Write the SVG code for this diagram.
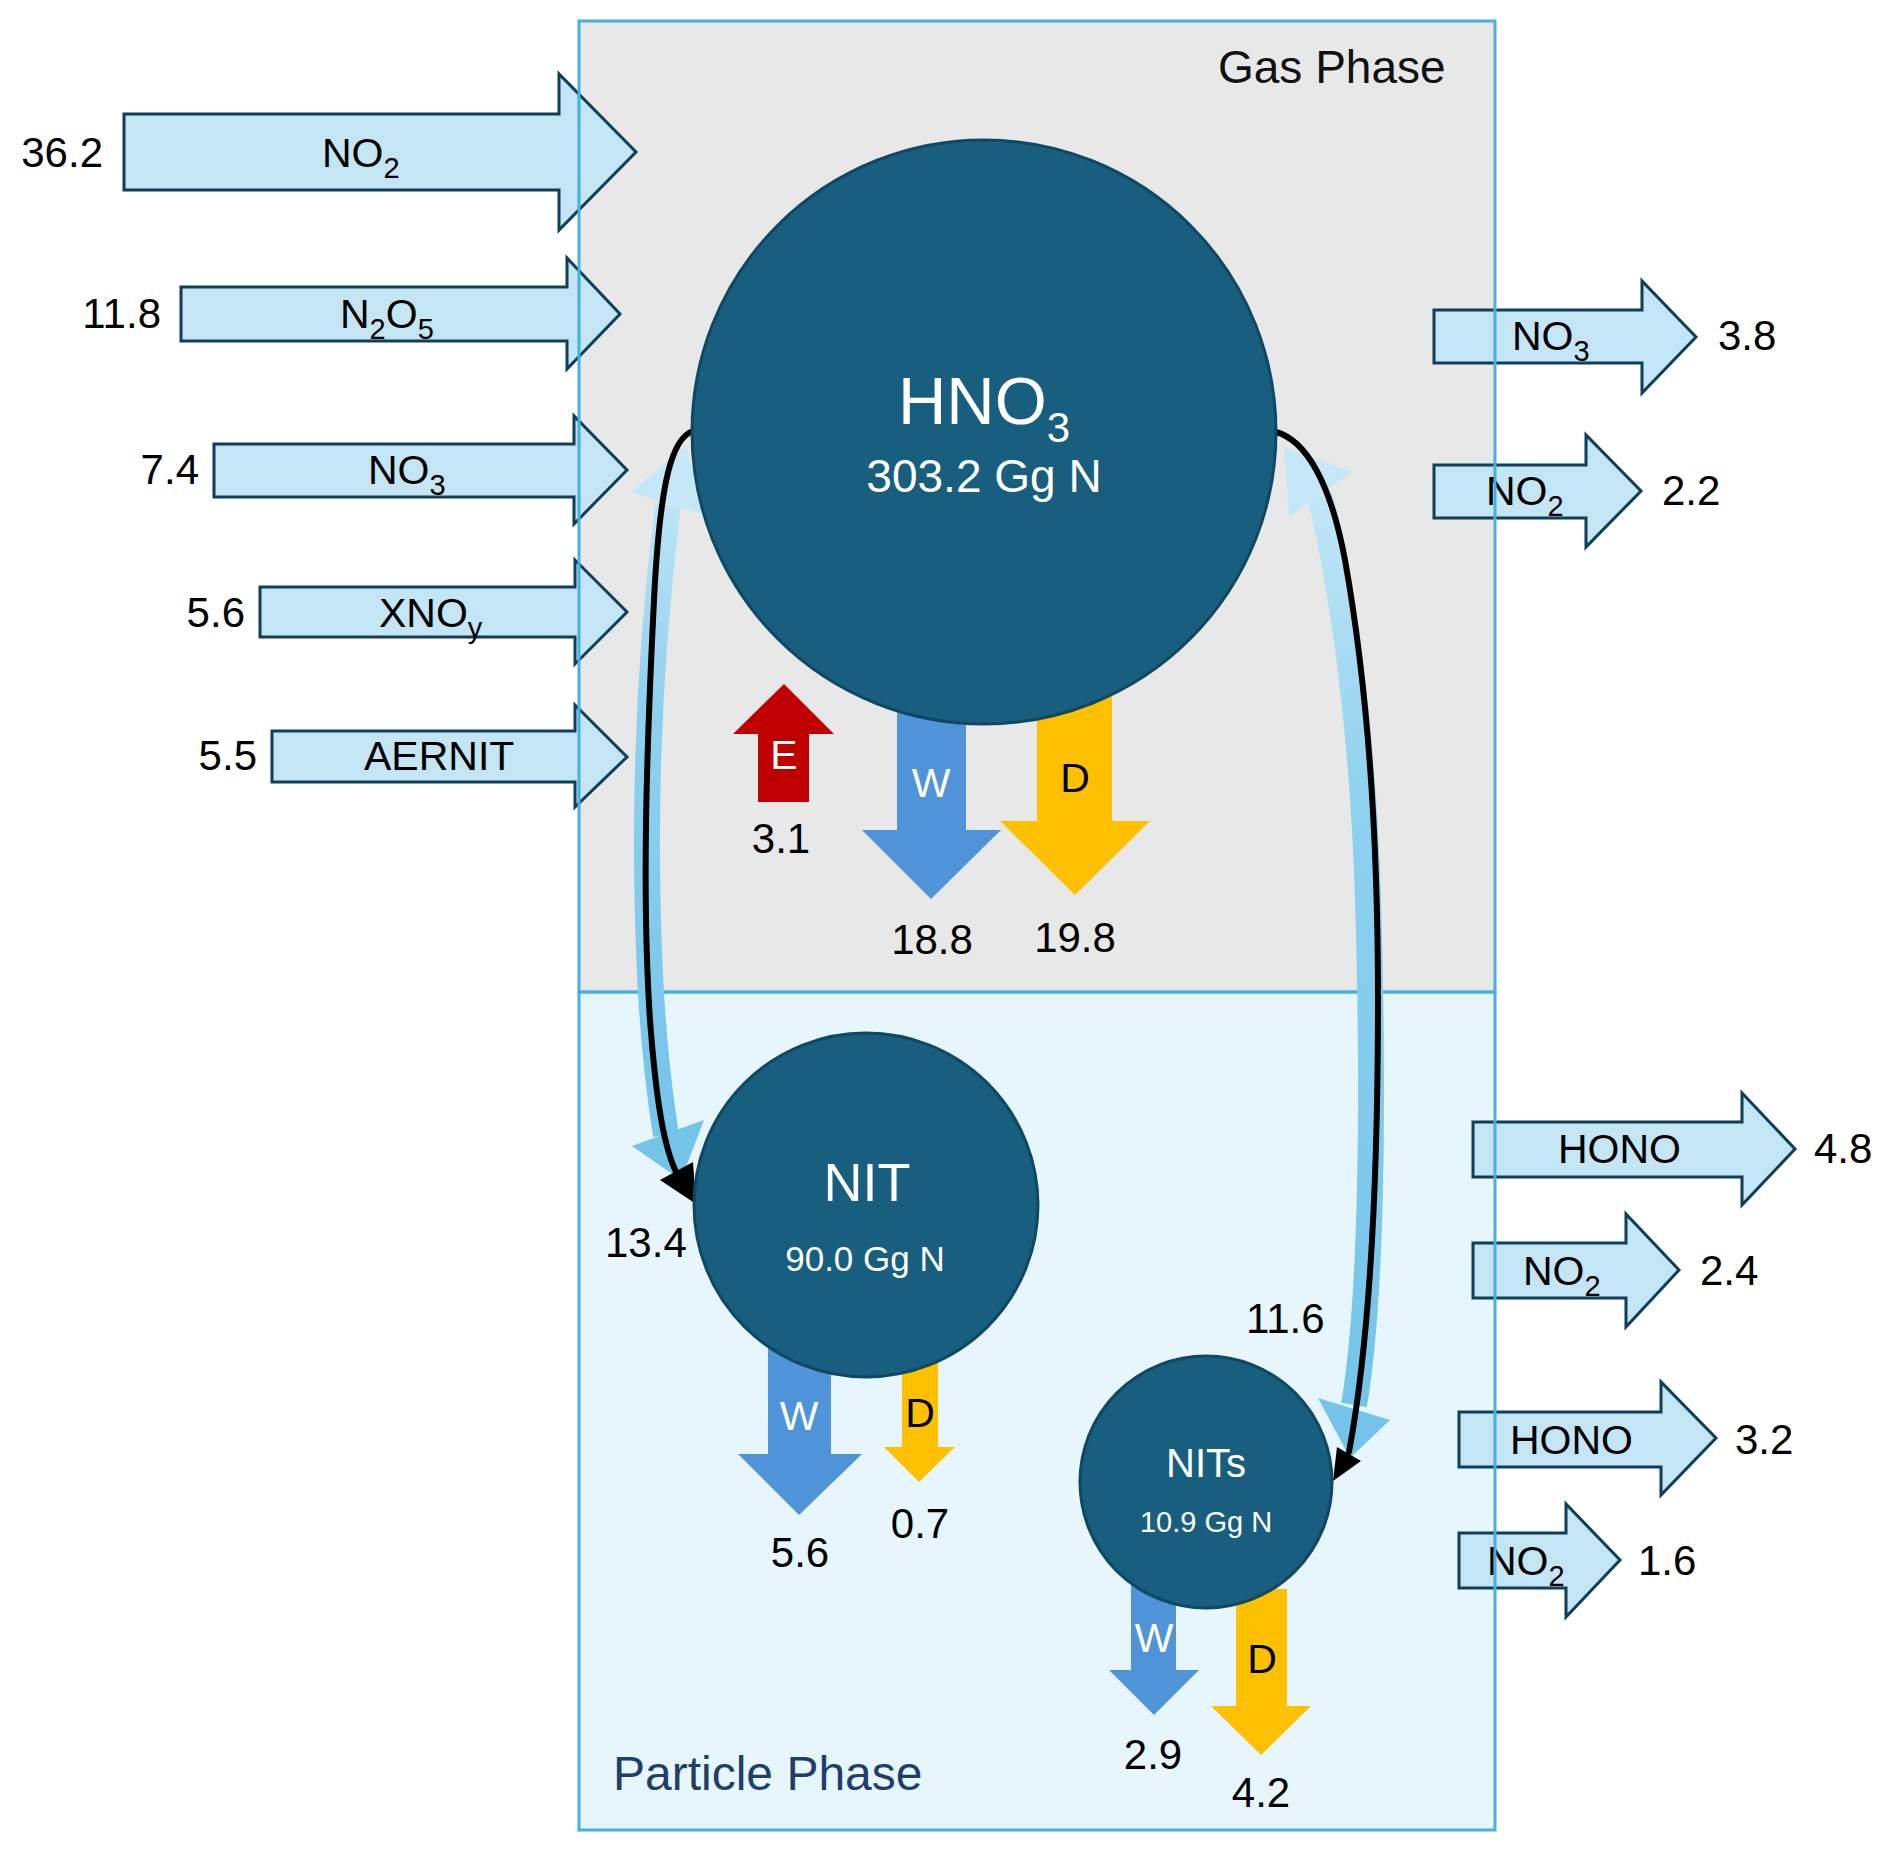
<svg xmlns="http://www.w3.org/2000/svg" width="1892" height="1852" viewBox="0 0 1892 1852">
<defs>
<style>
text{font-family:"Liberation Sans",Arial,sans-serif;}
.flow{fill:#c3e5f4;stroke:#0e3e58;stroke-width:3;stroke-linejoin:miter;}
.lbl{font-size:41px;fill:#000;}
.sub{font-size:29px;}
.num{font-size:42px;fill:#000;}
.node{fill:#175e7f;stroke:#0f4862;stroke-width:3;}
.ntxt{fill:#fff;text-anchor:middle;}
.wet{fill:#4f94d9;}
.dry{fill:#ffc000;}
.emi{fill:#c00000;}
.wl{font-size:41px;fill:#fff;}
.dl{font-size:41px;fill:#000;}
.blk{fill:none;stroke:#000;stroke-width:6;stroke-linecap:round;}
.band{fill:none;stroke-width:26;stroke-linecap:butt;}
</style>
<linearGradient id="gL" gradientUnits="userSpaceOnUse" x1="0" y1="440" x2="0" y2="1190">
<stop offset="0" stop-color="#cdeaf8"/><stop offset="0.35" stop-color="#8fd1ef"/><stop offset="1" stop-color="#72c3ea"/>
</linearGradient>
<linearGradient id="gR" gradientUnits="userSpaceOnUse" x1="0" y1="440" x2="0" y2="1460">
<stop offset="0" stop-color="#cdeaf8"/><stop offset="0.35" stop-color="#8fd1ef"/><stop offset="1" stop-color="#72c3ea"/>
</linearGradient>
</defs>

<g id="phases">
<rect id="gas-fill" x="579" y="21" width="916" height="971" fill="#e8e8e8"/>
<rect id="particle-fill" x="579" y="992" width="916" height="838" fill="#e7f5fd"/>
</g>

<g id="inflows">
<g id="in-NO2"><polygon class="flow" points="124,114 559,114 559,74 636,152 559,230 559,190 124,190"/>
<text class="lbl" x="322" y="167">NO<tspan class="sub" dy="11">2</tspan></text>
<text class="num" x="103" y="167" text-anchor="end">36.2</text></g>
<g id="in-N2O5"><polygon class="flow" points="181,287 567,287 567,258 620,314 567,369 567,341 181,341"/>
<text class="lbl" x="340" y="328">N<tspan class="sub" dy="11">2</tspan><tspan dy="-11">O</tspan><tspan class="sub" dy="11">5</tspan></text>
<text class="num" x="161" y="328" text-anchor="end">11.8</text></g>
<g id="in-NO3"><polygon class="flow" points="214,444 574,444 574,416 627,470 574,524 574,497 214,497"/>
<text class="lbl" x="368" y="484">NO<tspan class="sub" dy="11">3</tspan></text>
<text class="num" x="199" y="484" text-anchor="end">7.4</text></g>
<g id="in-XNOy"><polygon class="flow" points="260,587 575,587 575,560 627,612 575,664 575,637 260,637"/>
<text class="lbl" x="379" y="627">XNO<tspan class="sub" dy="11">y</tspan></text>
<text class="num" x="245" y="627" text-anchor="end">5.6</text></g>
<g id="in-AERNIT"><polygon class="flow" points="272,731 575,731 575,705 627,757 575,807 575,782 272,782"/>
<text class="lbl" x="364" y="770">AERNIT</text>
<text class="num" x="257" y="770" text-anchor="end">5.5</text></g>
</g>

<g id="outflows">
<g id="out-gas-NO3"><polygon class="flow" points="1434,310 1642,310 1642,281 1696,337 1642,393 1642,363 1434,363"/>
<text class="lbl" x="1512" y="350">NO<tspan class="sub" dy="11">3</tspan></text>
<text class="num" x="1718" y="350">3.8</text></g>
<g id="out-gas-NO2"><polygon class="flow" points="1434,465 1586,465 1586,435 1641,491 1586,547 1586,518 1434,518"/>
<text class="lbl" x="1486" y="505">NO<tspan class="sub" dy="11">2</tspan></text>
<text class="num" x="1662" y="505">2.2</text></g>
<g id="out-nit-HONO"><polygon class="flow" points="1473,1122 1742,1122 1742,1093 1795,1149 1742,1205 1742,1177 1473,1177"/>
<text class="lbl" x="1558" y="1163">HONO</text>
<text class="num" x="1814" y="1163">4.8</text></g>
<g id="out-nit-NO2"><polygon class="flow" points="1473,1243 1626,1243 1626,1214 1679,1270 1626,1327 1626,1298 1473,1298"/>
<text class="lbl" x="1523" y="1285">NO<tspan class="sub" dy="11">2</tspan></text>
<text class="num" x="1700" y="1285">2.4</text></g>
<g id="out-nits-HONO"><polygon class="flow" points="1459,1412 1661,1412 1661,1382 1716,1438 1661,1495 1661,1467 1459,1467"/>
<text class="lbl" x="1510" y="1454">HONO</text>
<text class="num" x="1735" y="1454">3.2</text></g>
<g id="out-nits-NO2"><polygon class="flow" points="1459,1533 1566,1533 1566,1504 1620,1560 1566,1617 1566,1588 1459,1588"/>
<text class="lbl" x="1487" y="1575">NO<tspan class="sub" dy="11">2</tspan></text>
<text class="num" x="1638" y="1575">1.6</text></g>
</g>

<g id="phase-borders" fill="none" stroke="#45b0e1" stroke-width="3">
<rect x="579" y="21" width="916" height="971"/>
<rect x="579" y="992" width="916" height="838"/>
</g>
<text x="1218" y="83" font-size="46" fill="#111">Gas Phase</text>
<text x="613" y="1790" font-size="48" fill="#1f3f6a">Particle Phase</text>

<g id="connectors">
<path class="band" stroke="url(#gL)" d="M668 505 C656 600 646 720 647 860 C648 980 654 1060 666 1135"/>
<polygon fill="#c6e7f7" points="631,492 705,515 686,446"/>
<polygon fill="#74c4ea" points="632,1146 704,1120 681,1180"/>
<path class="band" stroke="url(#gR)" d="M1320 496 C1336 560 1362 700 1368 900 C1374 1100 1372 1300 1354 1405"/>
<polygon fill="#c6e7f7" points="1352,472 1289,517 1284,447"/>
<polygon fill="#74c4ea" points="1318,1398 1390,1420 1350,1458"/>
<path class="blk" d="M693 431 C672 438 660 480 654 600 C646 760 642 900 650 1020 C656 1100 664 1150 678 1176"/>
<polygon fill="#000" points="660,1180 693,1162 696,1204"/>
<path class="blk" d="M1276 432 C1305 440 1330 480 1345 560 C1370 700 1378 850 1378 1000 C1378 1200 1368 1350 1349 1452"/>
<polygon fill="#000" points="1337,1447 1361,1461 1333,1481"/>
</g>

<g id="sinks">
<g id="HNO3-E"><polygon class="emi" points="758,802 758,734 733,734 784,684 834,734 809,734 809,802"/>
<text class="wl" x="784" y="769" text-anchor="middle">E</text>
<text class="num" x="781" y="853" text-anchor="middle">3.1</text></g>
<g id="HNO3-W"><polygon class="wet" points="897,690 966,690 966,830 1001,830 931,899 862,830 897,830"/>
<text class="wl" x="931" y="797" text-anchor="middle">W</text>
<text class="num" x="932" y="954" text-anchor="middle">18.8</text></g>
<g id="HNO3-D"><polygon class="dry" points="1037,680 1112,680 1112,821 1150,821 1075,895 1000,821 1037,821"/>
<text class="dl" x="1075" y="792" text-anchor="middle">D</text>
<text class="num" x="1075" y="952" text-anchor="middle">19.8</text></g>
<g id="NIT-W"><polygon class="wet" points="768,1330 831,1330 831,1454 862,1454 799,1515 738,1454 768,1454"/>
<text class="wl" x="799" y="1430" text-anchor="middle">W</text>
<text class="num" x="800" y="1567" text-anchor="middle">5.6</text></g>
<g id="NIT-D"><polygon class="dry" points="902,1340 938,1340 938,1447 955,1447 919,1482 884,1447 902,1447"/>
<text class="dl" x="920" y="1427" text-anchor="middle">D</text>
<text class="num" x="920" y="1538" text-anchor="middle">0.7</text></g>
<g id="NITs-W"><polygon class="wet" points="1131,1575 1176,1575 1176,1670 1199,1670 1154,1715 1109,1670 1131,1670"/>
<text class="wl" x="1154" y="1652" text-anchor="middle">W</text>
<text class="num" x="1153" y="1769" text-anchor="middle">2.9</text></g>
<g id="NITs-D"><polygon class="dry" points="1236,1589 1287,1589 1287,1706 1311,1706 1261,1755 1211,1706 1236,1706"/>
<text class="dl" x="1262" y="1673" text-anchor="middle">D</text>
<text class="num" x="1261" y="1807" text-anchor="middle">4.2</text></g>
</g>

<g id="HNO3">
<circle class="node" cx="984" cy="432" r="292"/>
<text class="ntxt" x="984" y="424" font-size="67"><tspan>HNO</tspan><tspan font-size="42" dy="18">3</tspan></text>
<text class="ntxt" x="984" y="492" font-size="46">303.2 Gg N</text>
</g>
<g id="NIT">
<circle class="node" cx="866" cy="1205" r="172"/>
<text class="ntxt" x="867" y="1201" font-size="54">NIT</text>
<text class="ntxt" x="865" y="1271" font-size="35">90.0 Gg N</text>
</g>
<g id="NITs">
<circle class="node" cx="1206" cy="1482" r="126"/>
<text class="ntxt" x="1206" y="1477" font-size="40">NITs</text>
<text class="ntxt" x="1206" y="1532" font-size="29">10.9 Gg N</text>
</g>
<g id="flow-labels">
<text class="num" x="605" y="1257">13.4</text>
<text class="num" x="1246" y="1333">11.6</text>
</g>
</svg>
